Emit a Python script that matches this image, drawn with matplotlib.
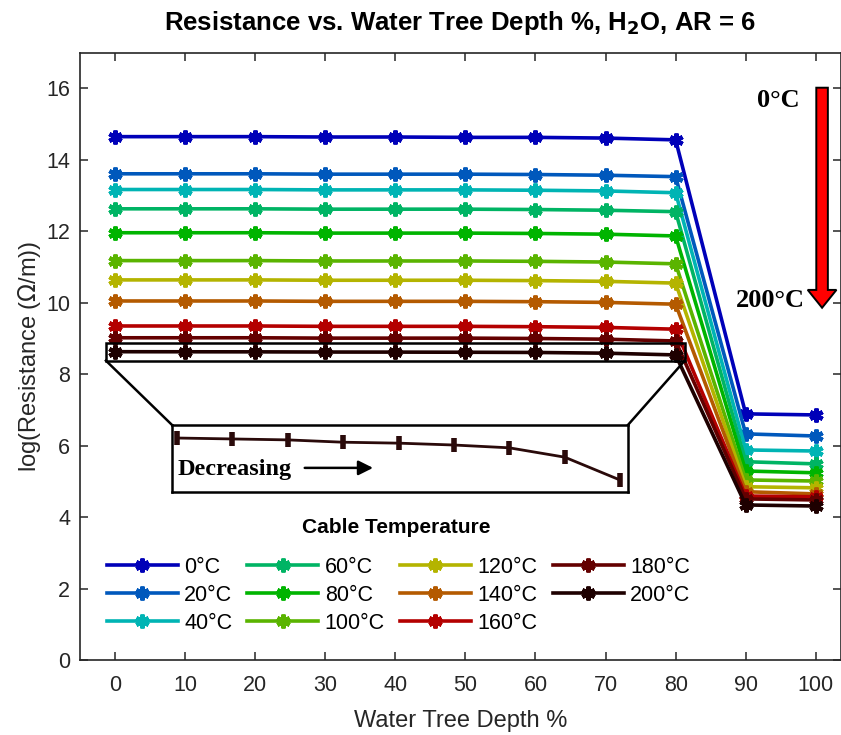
import numpy as np
import matplotlib.pyplot as plt
from matplotlib.patches import FancyArrow, Rectangle

plt.rcParams['font.family'] = ['Liberation Sans', 'DejaVu Sans']

# -----------------------------
# Data
# -----------------------------
depth = [0, 10, 20, 30, 40, 50, 60, 70, 80, 90, 100]
temps = ["0°C", "20°C", "40°C", "60°C", "80°C", "100°C",
         "120°C", "140°C", "160°C", "180°C", "200°C"]

r_0 = [14.65, 14.65, 14.65, 14.64, 14.64, 14.63, 14.63, 14.61, 14.56, 6.89, 6.86]
r_20 = [13.61, 13.61, 13.61, 13.60, 13.60, 13.60, 13.59, 13.57, 13.53, 6.33, 6.27]
r_40 = [13.17, 13.17, 13.17, 13.16, 13.16, 13.16, 13.15, 13.13, 13.08, 5.88, 5.85]
r_60 = [12.63, 12.63, 12.63, 12.62, 12.62, 12.62, 12.61, 12.59, 12.55, 5.55, 5.49]
r_80 = [11.96, 11.96, 11.96, 11.95, 11.95, 11.95, 11.94, 11.92, 11.87, 5.29, 5.24]
r_100 = [11.18, 11.18, 11.18, 11.17, 11.17, 11.17, 11.16, 11.14, 11.09, 5.04, 5.01]
r_120 = [10.64, 10.64, 10.64, 10.63, 10.63, 10.63, 10.62, 10.60, 10.55, 4.85, 4.82]
r_140 = [10.05, 10.05, 10.05, 10.04, 10.04, 10.04, 10.03, 10.01, 9.96, 4.71, 4.65]
r_160 = [9.35, 9.35, 9.35, 9.34, 9.34, 9.34, 9.33, 9.31, 9.26, 4.59, 4.57]
r_180 = [9.02, 9.02, 9.02, 9.01, 9.01, 9.01, 9.00, 8.98, 8.93, 4.51, 4.48]
r_200 = [8.630, 8.628, 8.626, 8.621, 8.619, 8.615, 8.609, 8.589, 8.540, 4.34, 4.31]

series = [r_0, r_20, r_40, r_60, r_80, r_100, r_120, r_140, r_160, r_180, r_200]
colors = ["#0000B8", "#0058BC", "#00B4B4", "#00B464", "#00B400", "#5AB400",
          "#B4B400", "#B45A00", "#B40000", "#640000", "#1E0000"]

# asterisk-like marker (MATLAB '*')
star = (6, 2, 0)

# -----------------------------
# Figure
# -----------------------------
W, H = 841, 735
fig = plt.figure(figsize=(W / 100, H / 100), dpi=100)
ax = fig.add_axes([80 / W, 1 - 660 / H, 761 / W, (660 - 52.7) / H])

for vals, c, lab in zip(series, colors, temps):
    ax.plot(depth, vals, color=c, lw=2.6, marker=star, ms=10, mew=3.0,
            label=lab)

ax.set_xlim(-5, 103.6)
ax.set_ylim(0, 17)
ax.set_xticks(range(0, 101, 10))
ax.set_yticks(range(0, 17, 2))
ax.tick_params(direction="in", top=True, right=True, length=6,
               labelsize=15.5, colors="#262626", width=1.1)
ax.tick_params(axis="x", pad=11)
ax.tick_params(axis="y", pad=7)
for s in ax.spines.values():
    s.set_color("#262626")
    s.set_linewidth(1.2)

ax.set_xlabel("Water Tree Depth %", fontsize=17, color="#262626", labelpad=10)
ax.set_ylabel(r"log(Resistance ($\Omega$/m))", fontsize=17, color="#262626",
              labelpad=2)
ax.set_title(r"Resistance vs. Water Tree Depth %, H$_{\mathbf{2}}$O, AR = 6",
             fontsize=18.5, fontweight="bold", pad=16)

# zoom box around the lowest curves + connector lines
ax.add_patch(Rectangle((-1.3, 8.38), 82.6, 0.5, fill=False, ec="black",
                       lw=1.8, zorder=5))
ax.plot([-1.3, 8.13], [8.38, 6.58], color="black", lw=1.8, zorder=5)
ax.plot([81.3, 73.2], [8.38, 6.58], color="black", lw=1.8, zorder=5)

# temperature arrow on the right
ax.add_patch(FancyArrow(100.9, 16.02, 0, -6.16, width=1.65, head_width=4.1,
                        head_length=0.5, length_includes_head=True,
                        fc="#FF0000", ec="black", lw=1.4, clip_on=False,
                        zorder=6))
ax.text(97.7, 15.65, "0°C", family="Liberation Serif",
        fontweight="bold", fontsize=19, ha="right", va="center")
ax.text(98.4, 10.05, "200°C", family="Liberation Serif",
        fontweight="bold", fontsize=19, ha="right", va="center")

# legend (title drawn separately to control its gap)
leg = ax.legend(loc="upper left", bbox_to_anchor=(0.0349, 0.170), ncol=4,
                frameon=False, fontsize=15.5, handlelength=3.3,
                handletextpad=0.3, columnspacing=0.7, labelspacing=0.33,
                borderpad=0, borderaxespad=0)
ax.text(0.415, 0.219, "Cable Temperature", transform=ax.transAxes,
        fontsize=15, fontweight="bold", ha="center", va="center")

# inset with the magnified 200°C curve
ins = fig.add_axes([172 / W, 1 - 492 / H, 456 / W, 67 / H])
ins.plot(depth[:9], r_200[:9], color="#2A0A0A", lw=2.0, marker="|",
         ms=10, mew=4.0)
ins.set_xlim(-0.9, 81.44)
ins.set_ylim(8.5143, 8.6579)
ins.set_xticks([])
ins.set_yticks([])
for s in ins.spines.values():
    s.set_linewidth(1.8)
ins.text(0.013, 0.33, "Decreasing", transform=ins.transAxes,
         family="Liberation Serif", fontweight="bold", fontsize=17.5,
         ha="left", va="center")
ins.annotate("", xy=(0.447, 0.36), xytext=(0.285, 0.36),
             xycoords="axes fraction",
             arrowprops=dict(arrowstyle="-|>", color="black", lw=1.8,
                             mutation_scale=22))

fig.savefig("out.png", dpi=100)
